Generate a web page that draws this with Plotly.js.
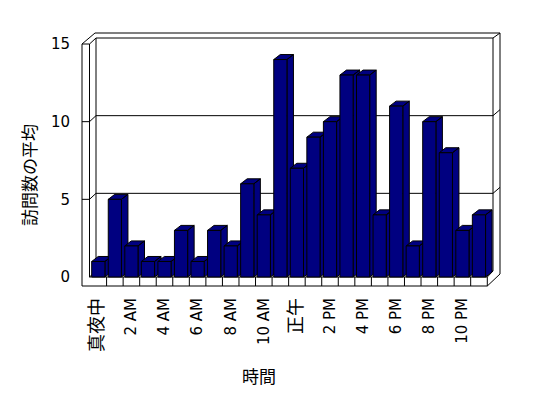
<!DOCTYPE html>
<html><head><meta charset="utf-8">
<script src="https://cdn.plot.ly/plotly-3.0.1.min.js"></script>
<style>html,body{margin:0;padding:0;background:#fff;}#chart{width:548px;height:398px;}</style>
</head><body><div id="chart"></div>
<script>
// ---- data ----
const hours = ["真夜中","1 AM","2 AM","3 AM","4 AM","5 AM","6 AM","7 AM","8 AM","9 AM","10 AM","11 AM",
               "正午","1 PM","2 PM","3 PM","4 PM","5 PM","6 PM","7 PM","8 PM","9 PM","10 PM","11 PM"];
const visits = [1,5,2,1,1,3,1,3,2,6,4,14,7,9,10,13,13,4,11,2,10,8,3,4];
const shownHours = ["真夜中","2 AM","4 AM","6 AM","8 AM","10 AM","正午","2 PM","4 PM","6 PM","8 PM","10 PM"];
const yTickVals = [0,5,10,15];
const yTitle = "訪問数の平均";
const xTitle = "時間";

// ---- geometry (pixels) ----
const W = 548, H = 398;
const mL = 76, mR = 44, mT = 28, mB = 108;
const PX_X = 16.55, X0 = 98.3;     // pixel per category, centre of first category
const PX_Y = 15.533, Y0 = 277;     // pixel per unit, front baseline
const xRange = [(mL - X0) / PX_X, (W - mR - X0) / PX_X];
const yRange = [(Y0 - (H - mB)) / PX_Y, (Y0 - mT) / PX_Y];
const X = px => (px - X0) / PX_X;
const Y = py => (Y0 - py) / PX_Y;
const PXp = px => (px - mL) / (W - mL - mR);
const PYp = py => ((H - mB) - py) / (H - mT - mB);

const xIdx = hours.map((_, i) => i);
const shownIdx = shownHours.map(h => hours.indexOf(h));
const tickText = shownHours.map(h => /[^\x00-\x7F]/.test(h) ? '<span style="font-size:18px">' + h + '</span>' : h);

// wall geometry
const FL = 82, FI = 89.5, BL = 96, BLo = 95, FR = 487.3, BR = 493, BRo = 500;
const FB = 286, TOPo = 33;
const front = v => Y0 - PX_Y * v;
const back = v => Y0 - 6 - PX_Y * v;
const P = pts => 'M' + pts.map(p => X(p[0]).toFixed(4) + ',' + Y(p[1]).toFixed(4)).join(' L');
const line = {color: '#000', width: 1};
const shapes = [];
const addPath = (pts) => shapes.push({type: 'path', xref: 'x', yref: 'y', layer: 'below', path: P(pts), line: line});

addPath([[FL, FB], [FL, front(15)], [BLo, TOPo], [BRo, TOPo], [BRo, 274], [FR, FB], [FL, FB]]);
addPath([[FI, 277], [FI, front(15)], [BL, back(15)], [BR, back(15)], [BRo, TOPo]]);
addPath([[FL, front(15)], [FI, front(15)]]);
addPath([[BL, back(15)], [BL, back(0)]]);
addPath([[BR, back(15)], [BR, back(0)], [FR, 277]]);
[5, 10].forEach(v => addPath([[FL, front(v)], [FI, front(v)], [BL, back(v)], [BR, back(v)], [BRo, back(v) - 6]]));
addPath([[FI, 277], [BL, back(0)], [BR, back(0)]]);
addPath([[FI, 277], [FR, 277], [FR, FB]]);
for (let k = 1; k < hours.length; k++) {
  const px = X0 + PX_X * (k - 0.5);
  addPath([[px, 277], [px, FB]]);
}

// bar depth faces (top + side) computed from data
const hw = 6.6 / PX_X, dx = 6.5 / PX_X, dy = 5 / PX_Y;
visits.forEach((v, i) => {
  const l = i - hw, r = i + hw;
  const pts = [[r, v], [l, v], [l + dx, v + dy], [r + dx, v + dy], [r, v], [r, 0], [r + dx, dy], [r + dx, v + dy], [r, v]];
  shapes.push({type: 'path', xref: 'x', yref: 'y', layer: 'below',
    path: 'M' + pts.map(p => p[0].toFixed(4) + ',' + p[1].toFixed(4)).join(' L') + ' Z',
    fillcolor: '#000080', line: line});
});

const font = 'DejaVu Sans, Noto Sans CJK JP, sans-serif';
const data = [{
  type: 'bar', x: xIdx, y: visits, width: 2 * hw,
  marker: {color: '#000080', line: {color: '#000', width: 1}},
  hoverinfo: 'skip', showlegend: false
}];

const layout = {
  width: W, height: H,
  margin: {l: mL, r: mR, t: mT, b: mB, pad: 0},
  paper_bgcolor: '#fff', plot_bgcolor: '#fff',
  font: {family: font, color: '#000', size: 15},
  showlegend: false,
  xaxis: {range: xRange, showgrid: false, zeroline: false, showline: false, ticks: '',
          tickmode: 'array', tickvals: shownIdx, ticktext: tickText, tickangle: -90,
          ticklabelstandoff: 4, tickfont: {size: 15, family: font}, fixedrange: true},
  yaxis: {range: yRange, showgrid: false, zeroline: false, showline: false, ticks: '',
          tickmode: 'array', tickvals: yTickVals, ticklabelstandoff: 5,
          tickfont: {size: 15, family: font}, fixedrange: true},
  shapes: shapes,
  annotations: [
    {text: xTitle, xref: 'paper', yref: 'paper', x: PXp(259), y: PYp(375), xanchor: 'center', yanchor: 'middle',
     showarrow: false, font: {size: 17, family: 'Noto Sans CJK JP'}},
    {text: yTitle, xref: 'paper', yref: 'paper', x: PXp(28), y: PYp(175), xanchor: 'center', yanchor: 'middle',
     textangle: -90, showarrow: false, font: {size: 17, family: 'Noto Sans CJK JP'}}
  ]
};
Plotly.newPlot('chart', data, layout, {staticPlot: true, displayModeBar: false});
</script></body></html>
